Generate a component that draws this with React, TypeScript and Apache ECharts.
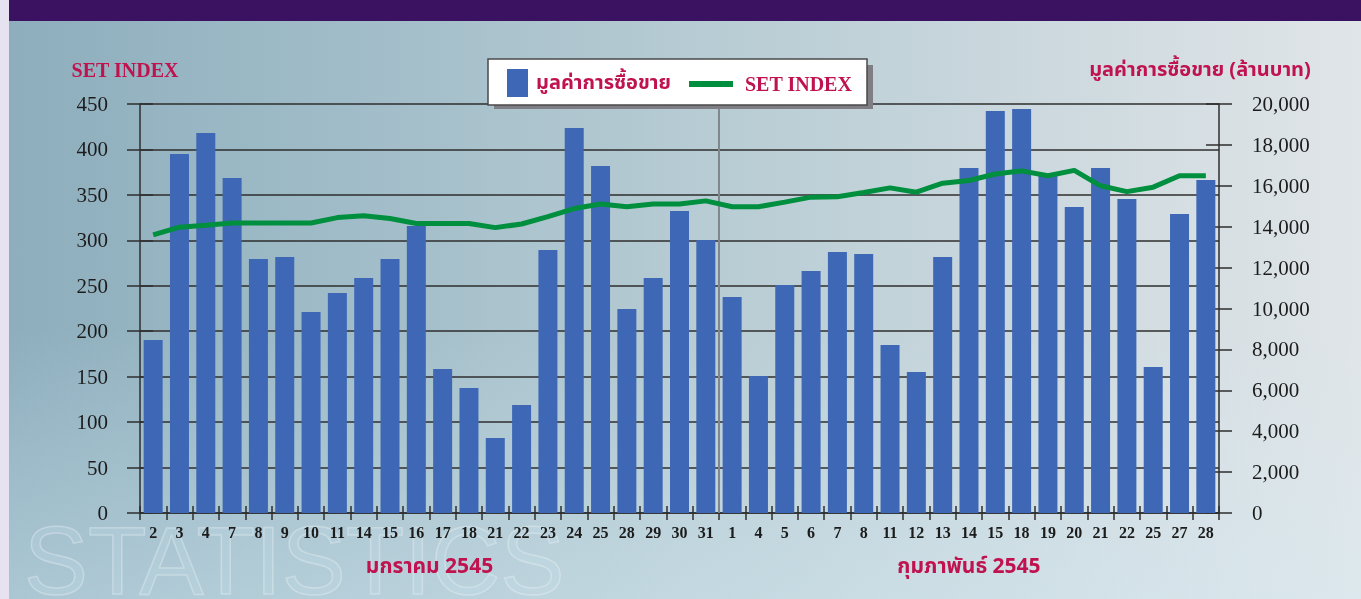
import React, { useEffect, useRef } from 'react';
import * as echarts from 'echarts';

// ---- data ----
const days = [
  '2', '3', '4', '7', '8', '9', '10', '11', '14', '15', '16', '17', '18', '21', '22', '23', '24', '25', '28', '29', '30', '31',
  '1', '4', '5', '6', '7', '8', '11', '12', '13', '14', '15', '18', '19', '20', '21', '22', '25', '27', '28',
];
// trading value (million baht)
const tradeValue = [
  8460, 17560, 18580, 16380, 12420, 12520, 9830, 10760, 11490, 12420, 14030, 7040, 6110, 3670, 5280, 12860, 18830, 16970, 9980, 11490, 14770, 13350,
  10560, 6700, 11150, 11830, 12760, 12670, 8220, 6900, 12520, 16870, 19660, 19760, 16480, 14960, 16870, 15360, 7140, 14620, 16280,
];
// SET index
const setIndex = [
  306, 314.5, 316.7, 319, 319, 319, 319, 325, 327, 324, 318.5, 318.5, 318.5, 314, 318, 326, 335, 340, 337, 340, 340, 343.4,
  337, 337, 342, 347.5, 348, 352.6, 357.7, 353, 362.9, 365.8, 373, 376.4, 371, 377, 360, 353.6, 358.5, 371, 371,
];
const monthLabels = ['มกราคม 2545', 'กุมภาพันธ์ 2545'];
const monthCounts = [22, 19];

const barName = 'มูลค่าการซื้อขาย';
const lineName = 'SET INDEX';
const rightAxisName = 'มูลค่าการซื้อขาย (ล้านบาท)';

const CRIMSON = '#c0124e';
const BLUE = '#3e68b5';
const GREEN = '#008f3e';
const AXIS = '#2e2e2e';
const SERIF = '"Liberation Serif", "DejaVu Serif", serif';
const THAI = '"Noto Sans Thai", "Noto Serif Thai", Loma, Garuda, Kinnari, Norasi, "Tlwg Typo", "Liberation Serif", sans-serif';

export default function App() {
  const ref = useRef<HTMLDivElement>(null);

  useEffect(() => {
    document.body.style.margin = '0';
    const chart = echarts.init(ref.current!, null, { renderer: 'svg' });

    const yLeftCommon = {
      type: 'value',
      position: 'left',
      min: 0,
      max: 450,
      interval: 50,
    };
    const yRightCommon = {
      type: 'value',
      position: 'right',
      min: 0,
      max: 20000,
      interval: 2000,
    };

    chart.setOption({
      animation: false,
      grid: { left: 140, right: 142, top: 104, bottom: 86 },
      legend: [
        {
          data: [{ name: barName, icon: 'rect' }],
          left: 507,
          top: 69,
          padding: 0,
          itemWidth: 21,
          itemHeight: 28,
          z: 6,
          selectedMode: false,
          textStyle: {
            color: CRIMSON,
            fontFamily: THAI,
            fontWeight: 'bold',
            fontSize: 20,
            padding: [0, 0, 0, 3],
          },
        },
        {
          data: [{ name: lineName, icon: 'rect' }],
          left: 689,
          top: 70,
          padding: 0,
          itemWidth: 44,
          itemHeight: 6,
          z: 6,
          selectedMode: false,
          textStyle: {
            color: CRIMSON,
            fontFamily: SERIF,
            fontWeight: 'bold',
            fontSize: 20,
            lineHeight: 28,
            padding: [0, 0, 0, 7],
          },
        },
      ],
      xAxis: [
        {
          type: 'category',
          position: 'bottom',
          data: days,
          boundaryGap: true,
          axisLine: { onZero: false, lineStyle: { color: AXIS, width: 1.5 } },
          axisTick: { show: true, length: 7, inside: false, lineStyle: { color: AXIS, width: 1.5 } },
          axisLabel: {
            interval: 0,
            margin: 11,
            color: '#1c1c1c',
            fontFamily: SERIF,
            fontWeight: 'bold',
            fontSize: 16,
          },
          splitLine: { show: false },
        },
        {
          type: 'category',
          position: 'bottom',
          data: days,
          boundaryGap: true,
          axisLine: { show: false, onZero: false },
          axisTick: { show: true, length: 7, inside: true, lineStyle: { color: AXIS, width: 1.5 } },
          axisLabel: { show: false },
          splitLine: { show: false },
        },
      ],
      yAxis: [
        {
          ...yLeftCommon,
          name: lineName,
          nameLocation: 'end',
          nameGap: 24,
          nameTextStyle: {
            color: CRIMSON,
            fontFamily: SERIF,
            fontWeight: 'bold',
            fontSize: 20,
            align: 'center',
            padding: [0, 30, 0, 0],
          },
          axisLine: { show: true, lineStyle: { color: AXIS, width: 1.5 } },
          axisTick: { show: true, length: 13, lineStyle: { color: AXIS, width: 1.5 } },
          axisLabel: { margin: 32, color: '#1c1c1c', fontFamily: SERIF, fontSize: 21 },
          splitLine: { show: true, lineStyle: { color: AXIS, width: 1.5 } },
        },
        {
          ...yRightCommon,
          name: rightAxisName,
          nameLocation: 'end',
          nameGap: 24,
          nameTextStyle: {
            color: CRIMSON,
            fontFamily: THAI,
            fontWeight: 'bold',
            fontSize: 20,
            align: 'center',
            padding: [0, 38, 0, 0],
          },
          axisLine: { show: true, lineStyle: { color: AXIS, width: 1.5 } },
          axisTick: { show: true, length: 13, lineStyle: { color: AXIS, width: 1.5 } },
          axisLabel: {
            margin: 33,
            color: '#1c1c1c',
            fontFamily: SERIF,
            fontSize: 21,
            formatter: (v: number) => v.toLocaleString('en-US'),
          },
          splitLine: { show: false },
        },
        {
          ...yLeftCommon,
          axisLine: { show: false },
          axisTick: { show: true, inside: true, length: 13, lineStyle: { color: AXIS, width: 1.5 } },
          axisLabel: { show: false },
          splitLine: { show: false },
        },
        {
          ...yRightCommon,
          axisLine: { show: false },
          axisTick: { show: true, inside: true, length: 13, lineStyle: { color: AXIS, width: 1.5 } },
          axisLabel: { show: false },
          splitLine: { show: false },
        },
      ],
      series: [
        {
          name: barName,
          type: 'bar',
          xAxisIndex: 0,
          yAxisIndex: 1,
          data: tradeValue,
          barWidth: 19,
          itemStyle: { color: BLUE },
          z: 2,
        },
        {
          name: lineName,
          type: 'line',
          xAxisIndex: 0,
          yAxisIndex: 0,
          data: setIndex,
          symbol: 'none',
          itemStyle: { color: GREEN },
          lineStyle: { color: GREEN, width: 5 },
          z: 3,
        },
      ],
    });

    // positions derived from the axes
    const px = (i: number) => chart.convertToPixel({ xAxisIndex: 0 }, i) as unknown as number;
    const py = (v: number) => chart.convertToPixel({ yAxisIndex: 0 }, v) as unknown as number;
    const half = (px(1) - px(0)) / 2;
    const yTop = py(450);
    const yBottom = py(0);

    const monthTexts: any[] = [];
    let start = 0;
    monthCounts.forEach((n, k) => {
      const cx = (px(start) + px(start + n - 1)) / 2;
      monthTexts.push({
        type: 'text',
        x: cx,
        y: yBottom + 53,
        z: 5,
        style: {
          text: monthLabels[k],
          fill: CRIMSON,
          font: `bold 21px ${THAI}`,
          textAlign: 'center',
          textVerticalAlign: 'middle',
        },
      });
      start += n;
    });
    const sepX = px(monthCounts[0]) - half;

    chart.setOption({
      graphic: [
        { type: 'rect', z: -20, shape: { x: 0, y: 0, width: 1361, height: 599 }, style: { fill: '#e7e2ef' } },
        {
          type: 'rect',
          z: -19,
          shape: { x: 9, y: 0, width: 1352, height: 599 },
          style: {
            fill: new echarts.graphic.LinearGradient(0, 0, 1, 0, [
              { offset: 0, color: '#8eaebd' },
              { offset: 0.25, color: '#a0bcc8' },
              { offset: 0.5, color: '#b6cbd3' },
              { offset: 0.75, color: '#cbd8de' },
              { offset: 1, color: '#e0e5e8' },
            ]),
          },
        },
        {
          type: 'rect',
          z: -18,
          shape: { x: 9, y: 0, width: 1352, height: 599 },
          style: {
            fill: new echarts.graphic.LinearGradient(0, 0, 0, 1, [
              { offset: 0, color: 'rgba(215,236,245,0)' },
              { offset: 0.55, color: 'rgba(215,236,245,0)' },
              { offset: 1, color: 'rgba(215,236,245,0.4)' },
            ]),
          },
        },
        {
          type: 'text',
          z: -17,
          x: 24,
          y: 512,
          silent: true,
          style: {
            text: 'STATISTICS',
            font: '96px "Liberation Sans", "DejaVu Sans", sans-serif',
            fill: 'rgba(205,228,238,0.2)',
            stroke: 'rgba(255,255,255,0.3)',
            lineWidth: 1.5,
            textVerticalAlign: 'top',
          },
        },
        { type: 'rect', z: -16, shape: { x: 9, y: 0, width: 1352, height: 21 }, style: { fill: '#3b1162' } },
        {
          type: 'line',
          z: 1,
          shape: { x1: sepX, y1: yTop, x2: sepX, y2: yBottom },
          style: { stroke: '#80878c', lineWidth: 2 },
        },
        // legend frame and shadow
        { type: 'rect', z: 3, shape: { x: 494, y: 65, width: 379, height: 44 }, style: { fill: '#7e7e84' } },
        {
          type: 'rect',
          z: 4,
          shape: { x: 488, y: 59, width: 379, height: 46 },
          style: { fill: '#ffffff', stroke: '#4a4a4a', lineWidth: 1.5 },
        },
        ...monthTexts,
      ],
    });

    return () => chart.dispose();
  }, []);

  return (
    <div
      ref={ref}
      style={{ position: 'fixed', left: 0, top: 0, width: 1361, height: 599 }}
    />
  );
}
